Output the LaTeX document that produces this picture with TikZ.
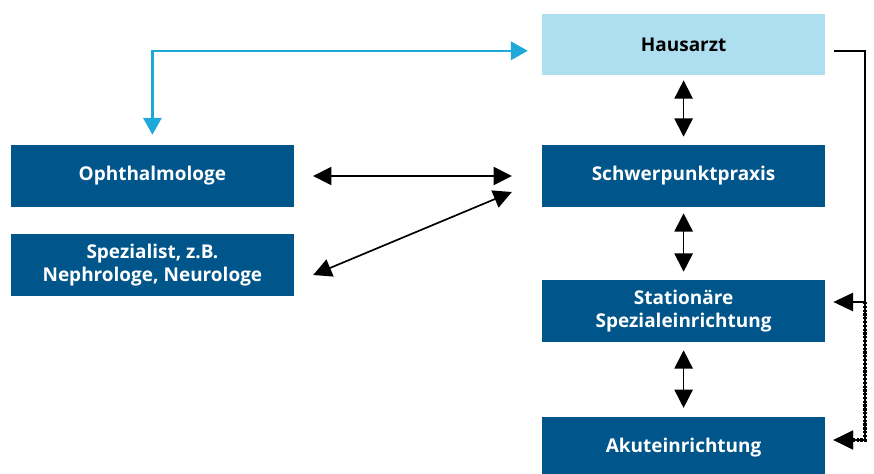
\documentclass[tikz,border=0pt]{standalone}
\usepackage{fontspec}
\setmainfont{Open Sans}
\usepackage{tikz}
\usetikzlibrary{arrows.meta, calc}

\definecolor{darkblue}{HTML}{00558A}
\definecolor{paleblue}{HTML}{AEDFF0}
\definecolor{linkcyan}{HTML}{1FA9D9}

\begin{document}
\begin{tikzpicture}[
  box/.style={rectangle, fill=darkblue, text=white, minimum width=7.075cm,
              minimum height=1.55cm, align=center, inner sep=0pt,
              font=\fontsize{13.5}{16.5}\selectfont\bfseries},
  darrow/.style={{Triangle[width=13pt,length=13pt]}-{Triangle[width=13pt,length=13pt]}, line width=1.2pt},
  arrow/.style={-{Triangle[width=13pt,length=14pt]}, line width=1.2pt},
  carrow/.style={{Triangle[width=13pt,length=12pt]}-{Triangle[width=13pt,length=12pt]}, line width=1.6pt, draw=linkcyan, color=linkcyan},
  railline/.style={-{Triangle[width=13pt,length=14pt]}, line width=2.6pt, dash pattern=on 1.6pt off 1.1pt,
                   preaction={draw, solid, line width=0.9pt}}
]
\useasboundingbox (0,0) rectangle (21.85,-11.825);

%% ---- CARE CHAIN (right) ----
\node[box, fill=paleblue, text=black, minimum height=1.525cm] at (17.09,-1.11)  (haus)   {Hausarzt};
\node[box] at (17.09,-4.4)   (schwer) {Schwerpunktpraxis};
\node[box] at (17.09,-7.775) (stat)   {Stationäre\\Spezialeinrichtung};
\node[box] at (17.09,-11.2) (akut) {Akuteinrichtung};

%% ---- SPECIALISTS (left) ----
\node[box] at (3.81,-4.4)   (oph)  {Ophthalmologe};
\node[box] at (3.81,-6.625) (spez) {Spezialist, z.B.\\Nephrologe, Neurologe};

%% ---- Arrows ----
\draw[darrow, shorten <=0.13cm, shorten >=0.2cm] (haus) -- (schwer);
\draw[darrow, shorten <=0.15cm, shorten >=0.2cm] (schwer) -- (stat);
\draw[darrow, shorten <=0.2cm, shorten >=0.22cm] (stat) -- (akut);
\draw[darrow, shorten <=0.475cm, shorten >=0.75cm] (oph.east) -- (schwer.west);
\draw[darrow] ($(spez.east)+(0.475,-0.25)$) -- ($(schwer.west)+(-0.75,-0.4)$);
\draw[carrow] ([yshift=0.25cm]oph.north) |- ([xshift=-0.35cm,yshift=-0.16cm]haus.west);

%% ---- Referral line (right edge) ----
\coordinate (rail)  at (21.625,-7.55);
\coordinate (rail2) at (21.625,-11.0);
\draw[arrow] ([xshift=0.225cm,yshift=-0.16cm]haus.east) -| (rail) -- ([xshift=0.2cm]stat.east |- rail);
\draw[railline] (rail) -- (rail2) -- ([xshift=0.2cm]akut.east |- rail2);
\end{tikzpicture}
\end{document}
